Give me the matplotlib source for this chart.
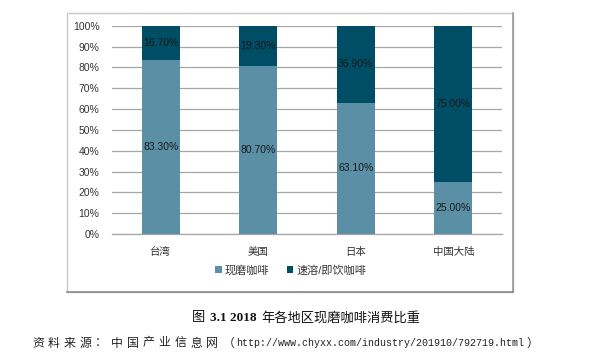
import numpy as np
import matplotlib.pyplot as plt
from matplotlib.patches import Rectangle
from matplotlib.lines import Line2D

plt.rcParams['font.family'] = ['Liberation Sans', 'Noto Sans CJK SC', 'DejaVu Sans']

# 数据
regions = ['台湾', '美国', '日本', '中国大陆']
fresh = [83.3, 80.7, 63.1, 25.0]
instant = [16.7, 19.3, 36.9, 75.0]
series_names = ['现磨咖啡', '速溶/即饮咖啡']
y_ticks = [0, 10, 20, 30, 40, 50, 60, 70, 80, 90, 100]

c_light = '#5b8fa6'
c_dark = '#004d66'
W, H = 592, 359

fig = plt.figure(figsize=(5.92, 3.59), dpi=100)

# 外框
box = Rectangle((67 / W, 1 - 292 / H), 446 / W, 279 / H,
                transform=fig.transFigure, fill=False, edgecolor='#c8c8c8', lw=1.0)
fig.patches.append(box)
fig.add_artist(Line2D([513 / W, 513 / W], [1 - 292 / H, 1 - 13 / H],
                      transform=fig.transFigure, color='#9a9a9a', lw=1.2))
fig.add_artist(Line2D([67 / W, 513 / W], [1 - 292 / H, 1 - 292 / H],
                      transform=fig.transFigure, color='#8a8a8a', lw=1.2))

ax = fig.add_axes([112 / W, 1 - 234 / H, 390 / W, 208.3 / H])
x = np.arange(len(regions))
w = 0.385
b1 = ax.bar(x, fresh, w, color=c_light, zorder=3, label=series_names[0])
b2 = ax.bar(x, instant, w, bottom=fresh, color=c_dark, zorder=3, label=series_names[1])

for i in range(len(regions)):
    ax.text(x[i], fresh[i] / 2, f'{fresh[i]:.2f}%', ha='center', va='center',
            fontsize=7.5, color='#1a1a1a', zorder=4)
    ax.text(x[i], fresh[i] + instant[i] / 2, f'{instant[i]:.2f}%', ha='center', va='center',
            fontsize=7.5, color='#1a1a1a', zorder=4)

ax.set_xlim(-0.5, len(regions) - 0.5)
ax.set_ylim(0, 100)
ax.set_yticks(y_ticks)
ax.set_yticklabels([f'{t}%' for t in y_ticks], fontsize=7.5, color='#333333')
ax.set_xticks(x)
ax.set_xticklabels(regions, fontsize=7.5, color='#333333')
ax.tick_params(axis='both', length=0)
ax.tick_params(axis='y', pad=9)
ax.tick_params(axis='x', pad=9)
ax.grid(axis='y', color='#a6a6a6', lw=0.9, zorder=0)
for s in ['top', 'right', 'left']:
    ax.spines[s].set_visible(False)
ax.spines['bottom'].set_color('#a6a6a6')
ax.spines['bottom'].set_linewidth(0.9)
ax.set_facecolor('none')

fig.legend(handles=[b1, b2], labels=series_names, loc='center',
           bbox_to_anchor=(291 / W, 1 - 270 / H), ncol=2, frameon=False,
           fontsize=8, handlelength=0.55, handleheight=0.55, handletextpad=0.3,
           columnspacing=1.6, labelcolor='#333333')

# 图题
cjk = ['Noto Sans CJK SC', 'DejaVu Sans']
fig.text(192 / W, 1 - 318 / H, '图', ha='left', va='center', fontsize=9.5,
         color='#111111', family=cjk)
fig.text(210 / W, 1 - 318 / H, '3.1 2018', ha='left', va='center', fontsize=9.5,
         color='#111111', family=['Liberation Serif'], weight='bold')
fig.text(420 / W, 1 - 318 / H, '年各地区现磨咖啡消费比重', ha='right', va='center',
         fontsize=9.5, color='#111111', family=cjk)

# 资料来源
prefix = '资料来源：中国产业信息网'
for i, ch in enumerate(prefix):
    fig.text((38 + i * 15.8) / W, 1 - 343 / H, ch, ha='center', va='center',
             fontsize=8.6, color='#222222', family=cjk)
fig.text(229 / W, 1 - 343 / H, '（', ha='center', va='center',
         fontsize=8.6, color='#222222', family=cjk)
fig.text(236 / W, 1 - 343 / H, 'http://www.chyxx.com/industry/201910/792719.html',
         ha='left', va='center', fontsize=7.2, color='#222222',
         family=['Liberation Mono'])
fig.text(532 / W, 1 - 343 / H, '）', ha='center', va='center',
         fontsize=8.6, color='#222222', family=cjk)

fig.savefig('out.png', dpi=100, facecolor='white')
